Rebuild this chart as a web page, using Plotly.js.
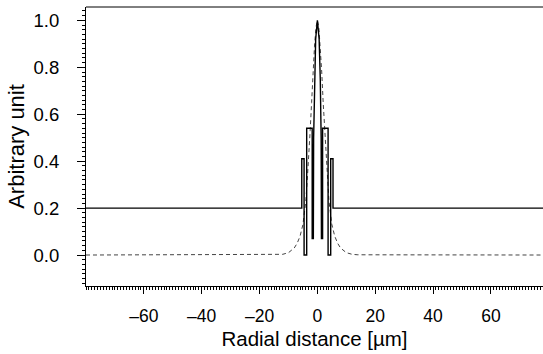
<!DOCTYPE html>
<html>
<head>
<meta charset="utf-8">
<script src="https://cdn.plot.ly/plotly-3.0.1.min.js"></script>
<style>html,body{margin:0;padding:0;background:#fff;}#chart{width:543px;height:354px;}</style>
</head>
<body>
<div id="chart"></div>
<script>
// Solid profile (stepped), radial distance in µm
var solidR = [-80, -5.4, -5.4, -4.6, -4.6, -3.7, -3.7, -1.8, -1.8, -1.4, -1.3, -1.0, -0.6, 0, 0.6, 1.0, 1.3, 1.4, 1.8, 1.8, 3.7, 3.7, 4.6, 4.6, 5.4, 5.4, 80];
var solidY = [0.2, 0.2, 0.41, 0.41, 0.0, 0.0, 0.54, 0.54, 0.07, 0.07, 0.5, 0.75, 0.92, 1.0, 0.92, 0.75, 0.5, 0.07, 0.07, 0.54, 0.54, 0.0, 0.0, 0.41, 0.41, 0.2, 0.2];
// Dashed profile
var dashR = [-80, -14, -12, -10, -8, -7, -6, -5, -4.5, -4, -3.5, -3, -2.5, -2, -1.5, -1, -0.5, 0, 0.5, 1, 1.5, 2, 2.5, 3, 3.5, 4, 4.5, 5, 6, 7, 8, 10, 12, 14, 80];
var dashY = [0.0, 0.001, 0.003, 0.01, 0.03, 0.05, 0.08, 0.13, 0.18, 0.23, 0.32, 0.41, 0.53, 0.65, 0.78, 0.89, 0.97, 1.0, 0.97, 0.89, 0.78, 0.65, 0.53, 0.41, 0.32, 0.23, 0.18, 0.13, 0.08, 0.05, 0.03, 0.01, 0.003, 0.001, 0.0];
var xTickVals = [-60, -40, -20, 0, 20, 40, 60];
var xTickText = ['\u201360', '\u201340', '\u201320', '0', '20', '40', '60'];
var yTickVals = [0, 0.2, 0.4, 0.6, 0.8, 1.0];
var yTickText = ['0.0', '0.2', '0.4', '0.6', '0.8', '1.0'];

var font = 'Liberation Sans, Arial, sans-serif';
var traces = [
  {x: dashR, y: dashY, type: 'scatter', mode: 'lines', line: {color: '#444444', width: 1, dash: '4px,3px'}, hoverinfo: 'skip'},
  {x: solidR, y: solidY, type: 'scatter', mode: 'lines', line: {color: '#000000', width: 1.4}, hoverinfo: 'skip'}
];
var layout = {
  width: 543, height: 354,
  margin: {l: 86, r: 0, t: 7, b: 68, pad: 0},
  paper_bgcolor: '#ffffff', plot_bgcolor: '#ffffff',
  showlegend: false,
  font: {family: font, size: 17, color: '#000'},
  xaxis: {
    range: [-80, 78], tickvals: xTickVals, ticktext: xTickText,
    showline: true, linecolor: '#000', linewidth: 1, showgrid: false, zeroline: false,
    ticks: 'outside', ticklen: 7, tickwidth: 1, tickcolor: '#000',
    ticklabelstandoff: 7,
    minor: {ticks: 'outside', ticklen: 3, tickwidth: 1, tickcolor: '#000', dtick: 1, showgrid: false},
    tickfont: {family: font, size: 17.5, color: '#000'},
    title: {text: 'Radial distance [\u00b5m]', font: {family: font, size: 20.5, color: '#000'}, standoff: 6}
  },
  yaxis: {
    range: [-0.132, 1.057], tickvals: yTickVals, ticktext: yTickText,
    showline: true, linecolor: '#000', linewidth: 1, showgrid: false, zeroline: false,
    ticks: 'outside', ticklen: 8, tickwidth: 1, tickcolor: '#000',
    ticklabelstandoff: 14,
    minor: {ticks: 'outside', ticklen: 3, tickwidth: 1, tickcolor: '#000', dtick: 0.02, showgrid: false},
    tickfont: {family: font, size: 18.5, color: '#000'},
    title: {text: 'Arbitrary unit', font: {family: font, size: 22, color: '#000'}, standoff: 2}
  },
  shapes: [{type: 'line', xref: 'paper', yref: 'paper', x0: 0, x1: 1, y0: 1, y1: 1, line: {color: '#000', width: 1}}]
};
Plotly.newPlot('chart', traces, layout, {staticPlot: true, displayModeBar: false});
</script>
</body>
</html>
